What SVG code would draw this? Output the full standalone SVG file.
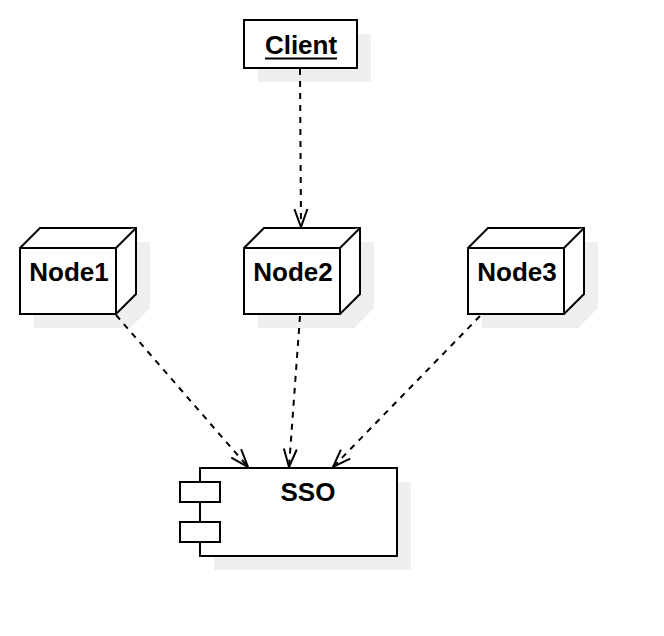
<svg xmlns="http://www.w3.org/2000/svg" width="664" height="636" viewBox="0 0 664 636">
<style>
.shadow{fill:#efefef;stroke:none}
.box{fill:#ffffff;stroke:#000000;stroke-width:2}
.edge{fill:none;stroke:#000000;stroke-width:2;stroke-dasharray:6 6}
.head{fill:none;stroke:#000000;stroke-width:2}
.lbl{font-family:"Liberation Sans",Arial,sans-serif;font-weight:bold;font-size:26px;fill:#000000;text-anchor:middle}
</style>
<defs>
<marker id="open" viewBox="0 0 20 16" refX="19" refY="8" markerWidth="20" markerHeight="16" markerUnits="userSpaceOnUse" orient="auto">
<path d="M1,1.5 L19,8 L1,14.5" fill="none" stroke="#000" stroke-width="2"/>
</marker>
</defs>
<rect width="664" height="636" fill="#ffffff"/>
<g id="client">
<rect class="shadow" x="258" y="34" width="113" height="48"/>
<rect class="box" x="244" y="20" width="113" height="48"/>
<text class="lbl" x="301" y="54">Client</text>
<line x1="265" y1="58.5" x2="337" y2="58.5" stroke="#000" stroke-width="2"/>
</g>
<g id="node1">
<path class="shadow" d="M54,242 L150,242 L150,308 L130,328 L34,328 L34,262 Z"/>
<path class="box" d="M20,248 L40,228 L136,228 L136,294 L116,314 L20,314 Z"/>
<path class="box" d="M20,248 L116,248 L136,228 M116,248 L116,314"/>
<text class="lbl" x="69" y="281">Node1</text>
</g>
<g id="node2">
<path class="shadow" d="M278,242 L374,242 L374,308 L354,328 L258,328 L258,262 Z"/>
<path class="box" d="M244,248 L264,228 L360,228 L360,294 L340,314 L244,314 Z"/>
<path class="box" d="M244,248 L340,248 L360,228 M340,248 L340,314"/>
<text class="lbl" x="293" y="281">Node2</text>
</g>
<g id="node3">
<path class="shadow" d="M502,242 L598,242 L598,308 L578,328 L482,328 L482,262 Z"/>
<path class="box" d="M468,248 L488,228 L584,228 L584,294 L564,314 L468,314 Z"/>
<path class="box" d="M468,248 L564,248 L584,228 M564,248 L564,314"/>
<text class="lbl" x="517" y="281">Node3</text>
</g>
<g id="sso">
<rect class="shadow" x="214" y="482" width="197" height="88"/>
<rect class="box" x="200" y="468" width="197" height="88"/>
<rect class="box" x="180" y="482" width="40" height="20"/>
<rect class="box" x="180" y="522" width="40" height="20"/>
<text class="lbl" x="308" y="501">SSO</text>
</g>
<g id="connectors">
<line class="edge" x1="300" y1="69" x2="301" y2="227" marker-end="url(#open)"/>
<line class="edge" x1="116" y1="315" x2="248" y2="467" marker-end="url(#open)"/>
<line class="edge" x1="300" y1="316" x2="289" y2="467" marker-end="url(#open)"/>
<line class="edge" x1="480" y1="316" x2="333" y2="467" marker-end="url(#open)"/>
</g>
</svg>
